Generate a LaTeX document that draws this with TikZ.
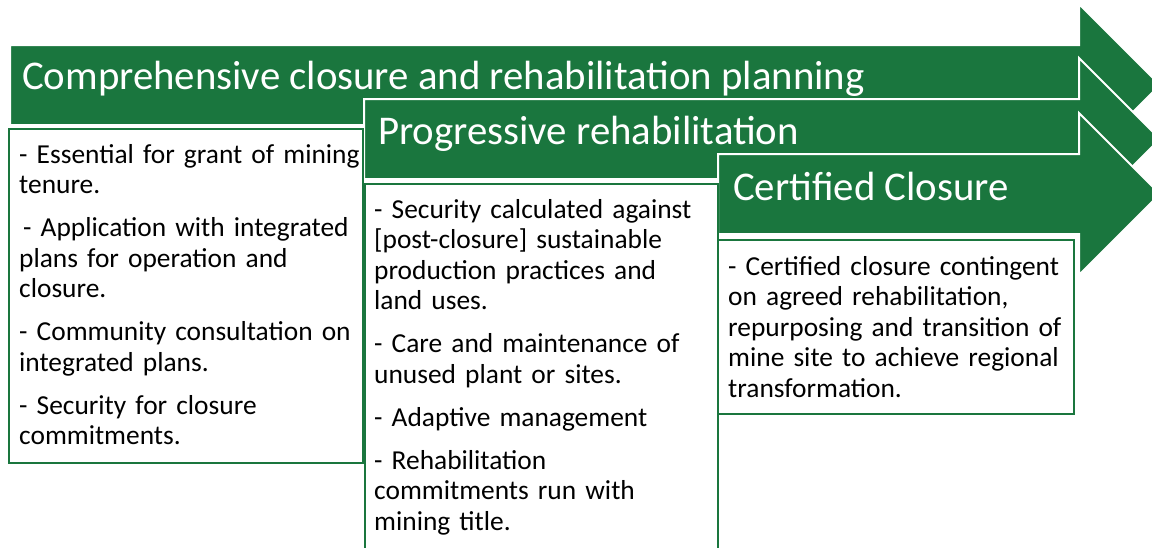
\documentclass[tikz,border=0pt]{standalone}
\usepackage{fontspec}
\setmainfont{Carlito}
\definecolor{mine}{RGB}{26,118,62}
\tikzset{
 band/.style={fill=mine, draw=white, line width=2pt},
 panel/.style={fill=white, draw=mine, line width=2.8pt},
 head/.style={text=white, anchor=base west, inner sep=0pt, font=\fontsize{40.8}{44}\selectfont},
 body/.style={anchor=base west, inner sep=0pt, align=left, text width=420pt, font=\fontsize{27.4}{30.5}\selectfont}
}
\begin{document}
\begin{tikzpicture}[x=1pt,y=-1pt]
 \useasboundingbox (0,0) rectangle (1152,547);
 % the three stage arrows
 \foreach \l/\c in {10/85, 364/139, 718/194}
 {
     \draw[band](\l,\c-40)--(1079,\c-40)--(1079,\c-81)--(1160,\c)--(1079,\c+81)--(1079,\c+40)--(\l,\c+40)--cycle;
 }
 \node[head] (plan) at (22,89) {Comprehensive closure and rehabilitation planning};
 \node[head] (prog) at (378,144) {Progressive rehabilitation};
 \node[head] (cert) at (733,200) {Certified Closure};

 % panels under the arrows
 \draw[panel](9,129) rectangle (363,463);
 \draw[panel](365,184) rectangle (718,570);
 \draw[panel](718,240) rectangle (1074,414);

 \node[body] (planlist) at (19,163) {- Essential for grant of mining\\ tenure.\\[12.5pt]
 \hspace{4pt}- Application with integrated\\ plans for operation and\\ closure.\\[12.5pt]
 - Community consultation on\\ integrated plans.\\[12.5pt]
 - Security for closure\\ commitments.};
 \node[body] (proglist) at (374,218) {- Security calculated against\\ {[post-closure]} sustainable\\ production practices and\\ land uses.\\[12.5pt]
 - Care and maintenance of\\ unused plant or sites.\\[12.5pt]
 - Adaptive management\\[12.5pt]
 - Rehabilitation\\ commitments run with\\ mining title.};
 \node[body] (certlist) at (728,275) {- Certified closure contingent\\ on agreed rehabilitation,\\ repurposing and transition of\\ mine site to achieve regional\\ transformation.};
\end{tikzpicture}
\end{document}
